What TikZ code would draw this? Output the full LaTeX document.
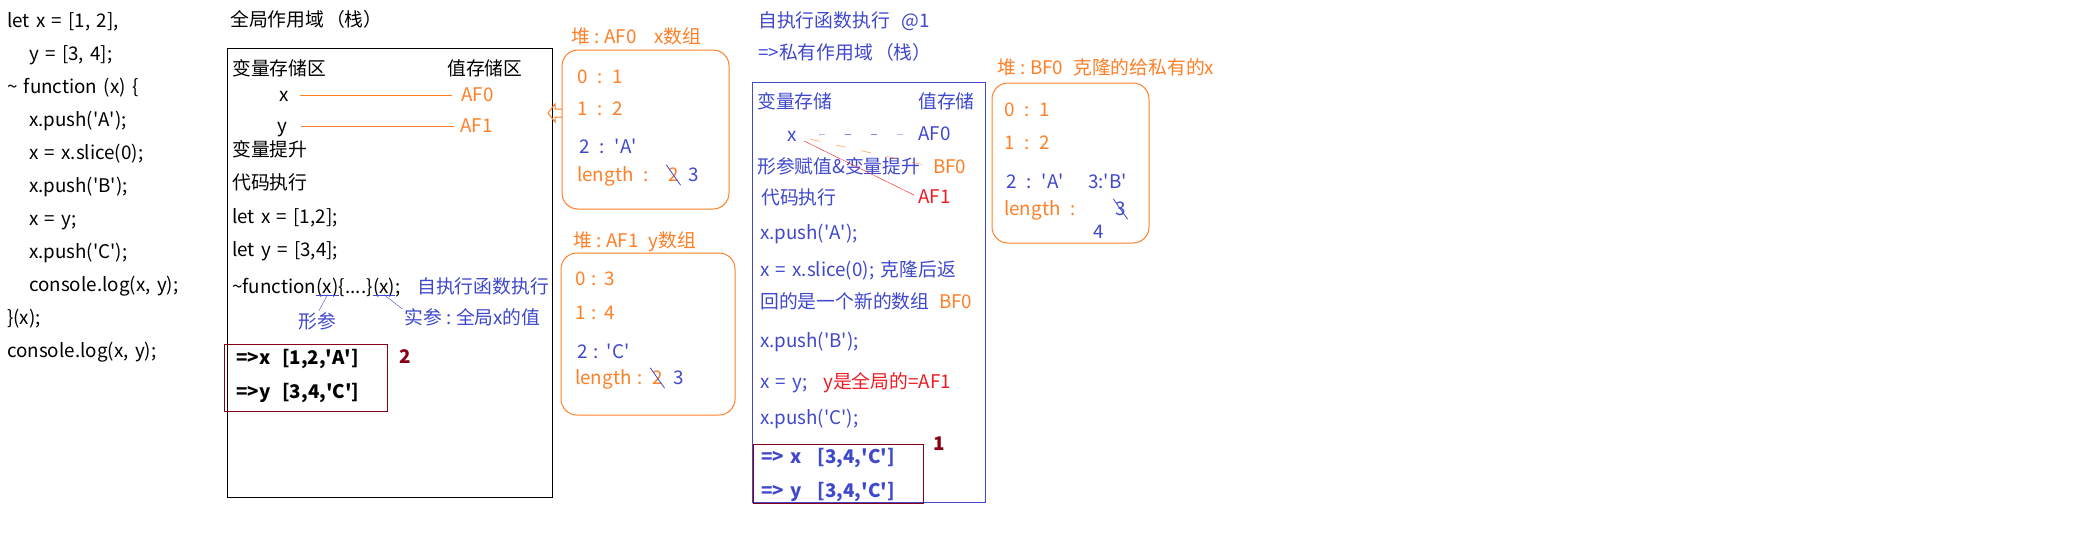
\documentclass[tikz,border=0pt]{standalone}
\usepackage{fontspec}
\setmainfont{Noto Sans CJK SC}[WordSpace=1.5]
\usepackage{tikz}
\usetikzlibrary{positioning}

\definecolor{orng}{HTML}{FF7F27}
\definecolor{indigo}{HTML}{3F48CC}
\definecolor{rred}{HTML}{ED1C24}
\definecolor{dred}{HTML}{880015}
\newcommand{\sq}{\textquotesingle}
\newcommand{\colsep}{\hspace{5pt}:\hspace{4pt}}

\tikzset{
  txt/.style={anchor=west, inner sep=0pt, text height=14pt, text depth=1pt, font=\fontsize{18.8}{22}\selectfont},
  otxt/.style={txt, text=orng},
  btxt/.style={txt, text=indigo},
  rtxt/.style={txt, text=rred},
  boldtxt/.style={txt, font=\fontsize{18.8}{22}\selectfont\bfseries},
  heap/.style={draw=orng, line width=1pt, rounded corners=16pt},
  result/.style={draw=dred, line width=1pt},
  strike/.style={indigo, line width=0.8pt, shorten <=-3pt, shorten >=-3pt}
}

\begin{document}
\begin{tikzpicture}[x=1pt, y=-1pt]
	\useasboundingbox (0,0) rectangle (2100,544);

	%code
	\node[txt] (c1)  at (7, 21)  {let x = [1, 2],};
	\node[txt] (c2)  at (29, 54) {y = [3, 4];};
	\node[txt] (c3)  at (7, 87)  {\textasciitilde\ function (x) \{};
	\node[txt] (c4)  at (29, 120) {x.push(\sq A\sq);};
	\node[txt] (c5)  at (29, 153) {x = x.slice(0);};
	\node[txt] (c6)  at (29, 186) {x.push(\sq B\sq);};
	\node[txt] (c7)  at (29, 219) {x = y;};
	\node[txt] (c8)  at (29, 252) {x.push(\sq C\sq);};
	\node[txt] (c9)  at (29, 285) {console.log(x, y);};
	\node[txt] (c10) at (7, 318)  {\}(x);};
	\node[txt] (c11) at (7, 351)  {console.log(x, y);};

	%portee globale
	\node[txt] (gtitle) at (230, 20) {全局作用域\hspace{2pt}（栈）};
	\draw[line width=1pt] (227,48) rectangle (552,497);
	\node[txt] (gvar)  at (232, 69)  {变量存储区};
	\node[txt] (gval)  at (447, 69)  {值存储区};
	\node[txt] (gx)    at (279, 95)  {x};
	\node[otxt] (gaf0) at (461, 95)  {AF0};
	\node[txt] (gy)    at (277, 126) {y};
	\node[otxt] (gaf1) at (460, 126) {AF1};
	\draw[orng, line width=1pt, shorten <=11pt, shorten >=9pt] (gx) to (gaf0);
	\draw[orng, line width=1pt, shorten <=14pt, shorten >=6pt] (gy) to (gaf1);
	\node[txt] (ghoist) at (232, 150) {变量提升};
	\node[txt] (gexec)  at (232, 183) {代码执行};
	\node[txt] (glx)    at (232, 217) {let x = [1,2];};
	\node[txt] (gly)    at (232, 250) {let y = [3,4];};
	\node[txt] (gfn)    at (232, 287) {\textasciitilde function};
	\node[txt] (gparx)  at (gfn.east)   {(x)};
	\node[txt] (gbody)  at (gparx.east) {\{....\}};
	\node[txt] (gargx)  at (gbody.east) {(x)};
	\node[txt] (gsemi)  at (gargx.east) {;};
	\node[btxt] (gself)   at (417, 287) {自执行函数执行};
	\node[btxt] (gform)   at (298, 322) {形参};
	\node[btxt] (gactual) at (404, 318) {实参\colsep 全局x的值};
	\draw[indigo] (gparx.south west) to (gparx.south east);
	\draw[indigo] (gargx.south west) to (gargx.south east);
	\draw[indigo, shorten >=4pt] (gparx.south) to (gform.north);
	\draw[indigo, shorten >=2pt] (gargx.south) to (gactual.north west);

	\draw[result] (224,344) rectangle (387,411);
	\node[boldtxt] (gresx) at (236, 358) {=>x\hspace{12pt}[1,2,\sq A\sq]};
	\node[boldtxt] (gresy) at (236, 392) {=>y\hspace{12pt}[3,4,\sq C\sq]};
	\node[boldtxt, text=dred] (gtwo) at (399, 357) {2};

	%tas AF0
	\node[otxt] (h0title) at (571, 37) {堆\colsep AF0\hspace{18pt}x数组};
	\draw[heap] (562,50) rectangle (729,209);
	\draw[orng, line width=1pt] (562,109) -- (555,109) -- (555,104) -- (548,113) -- (555,122) -- (555,117) -- (562,117);
	\node[otxt] (h0r0)  at (577, 77)  {0\hspace{10pt}:\hspace{10pt}1};
	\node[otxt] (h0r1)  at (577, 109) {1\hspace{10pt}:\hspace{10pt}2};
	\node[btxt] (h0r2)  at (579, 147) {2\hspace{10pt}:\hspace{10pt}\sq A\sq};
	\node[otxt] (h0len) at (577, 175) {length\hspace{10pt}:};
	\node[otxt] (h0old) at (668, 175) {2};
	\node[btxt] (h0new) at (688, 175) {3};
	\draw[strike] (h0old.north west) to (h0old.south east);

	%tas AF1
	\node[otxt] (h1title) at (573, 241) {堆\colsep AF1\hspace{10pt}y数组};
	\draw[heap] (561,253) rectangle (735,415);
	\node[otxt] (h1r0)  at (575, 279) {0 : 3};
	\node[otxt] (h1r1)  at (575, 313) {1 : 4};
	\node[btxt] (h1r2)  at (577, 352) {2 : \sq C\sq};
	\node[otxt] (h1len) at (575, 378) {length :};
	\node[otxt] (h1old) at (652, 378) {2};
	\node[btxt] (h1new) at (673, 378) {3};
	\draw[strike] (h1old.north west) to (h1old.south east);

	%portee privee
	\node[btxt] (ptitle)  at (758, 21) {自执行函数执行\hspace{12pt}@1};
	\node[btxt] (ptitle2) at (758, 53) {=>私有作用域\hspace{2pt}（栈）};
	\draw[indigo, line width=1pt] (752,82) rectangle (985,502);
	\node[btxt] (pvar)   at (757, 102) {变量存储};
	\node[btxt] (pval)   at (918, 102) {值存储};
	\node[btxt] (px)     at (787, 135) {x};
	\node[btxt] (paf0)   at (918, 134) {AF0};
	\node[btxt] (phoist) at (757, 167) {形参赋值\&变量提升};
	\node[otxt] (pbf0)   at (933, 167) {BF0};
	\node[btxt] (pexec)  at (761, 198) {代码执行};
	\node[rtxt] (paf1)   at (918, 197) {AF1};
	\draw[indigo, dash pattern=on 6pt off 20pt, shorten <=22pt, shorten >=4pt] (px) to (paf0);
	\draw[orng, dash pattern=on 10pt off 16pt, shorten <=14pt, shorten >=8pt] (px) to (pbf0.west);
	\draw[rred, shorten <=8pt, shorten >=4pt] (px) to (paf1.west);
	\node[btxt] (pa)      at (760, 233) {x.push(\sq A\sq);};
	\node[btxt] (pslice)  at (760, 270) {x = x.slice(0); 克隆后返};
	\node[btxt] (pslice2) at (760, 302) {回的是一个新的数组};
	\node[otxt] (pbf0b)   at (939, 302) {BF0};
	\node[btxt] (pb)      at (760, 341) {x.push(\sq B\sq);};
	\node[btxt] (pxy)     at (760, 382) {x = y;};
	\node[rtxt] (pglob)   at (823, 382) {y是全局的=AF1};
	\node[btxt] (pc)      at (760, 418) {x.push(\sq C\sq);};
	\draw[result] (753,444) rectangle (923,503);
	\node[boldtxt, text=indigo] (presx) at (761, 457) {=> x\hspace{16pt}[3,4,\sq C\sq]};
	\node[boldtxt, text=indigo] (presy) at (761, 491) {=> y\hspace{16pt}[3,4,\sq C\sq]};
	\node[boldtxt, text=dred] (pone) at (933, 444) {1};

	%tas BF0
	\node[otxt] (btitle) at (997, 68) {堆\colsep BF0\hspace{10pt}克隆的给私有的x};
	\draw[heap] (992,83) rectangle (1149,243);
	\node[otxt] (br0)  at (1004, 110) {0\hspace{10pt}:\hspace{10pt}1};
	\node[otxt] (br1)  at (1004, 143) {1\hspace{10pt}:\hspace{10pt}2};
	\node[btxt] (br2)  at (1006, 182) {2\hspace{10pt}:\hspace{10pt}\sq A\sq};
	\node[btxt] (br3)  at (1088, 182) {3:\sq B\sq};
	\node[otxt] (blen) at (1004, 209) {length\hspace{10pt}:};
	\node[btxt] (bold3) at (1115, 209) {3};
	\node[btxt] (bnew4) at (1093, 232) {4};
	\draw[strike] (bold3.north west) to (bold3.south east);

\end{tikzpicture}
\end{document}
